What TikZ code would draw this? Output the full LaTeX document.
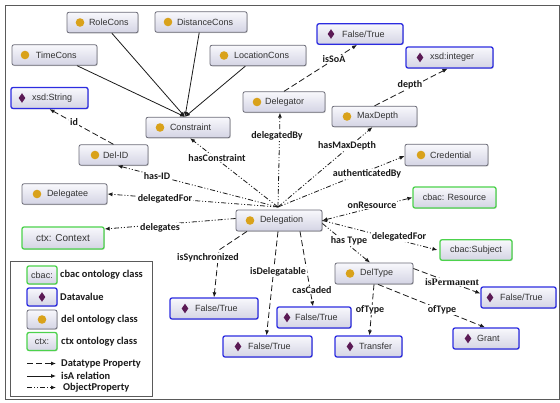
\documentclass[tikz,border=0pt]{standalone}
\usepackage{fontspec}
\setmainfont{Liberation Sans}
\newfontfamily\lblfont{Carlito}
\newfontfamily\lblserif{Liberation Serif}
\usetikzlibrary{arrows.meta,shadows}

\definecolor{framegray}{HTML}{5A5A5A}
\definecolor{boxedge}{HTML}{6C6C78}
\definecolor{boxtop}{HTML}{F8F8FC}
\definecolor{boxbot}{HTML}{D4D4E4}
\definecolor{dvblue}{HTML}{2C2CE0}
\definecolor{extgreen}{HTML}{4CD24C}
\definecolor{dotgold}{HTML}{D9A21B}
\definecolor{diapurple}{HTML}{5B1A55}
\definecolor{linec}{HTML}{1A1A1A}
\definecolor{nodetext}{HTML}{333333}

\begin{document}
\begin{tikzpicture}[x=1pt,y=-1pt,
  cls/.style={rectangle, rounded corners=2pt, draw=boxedge, line width=0.8pt,
    top color=boxtop, bottom color=boxbot, minimum height=20.5pt, inner sep=0pt,
    font=\fontsize{9}{10}\selectfont, text=nodetext,
    drop shadow={shadow xshift=0.8pt, shadow yshift=-0.8pt, opacity=0.3}},
  delc/.style={cls, align=left,
    path picture={\fill[dotgold] ([xshift=#1]path picture bounding box.west) circle[radius=4.3pt];}},
  delc/.default=14pt,
  dval/.style={cls, draw=dvblue, line width=1.3pt, align=left,
    path picture={\fill[diapurple, sharp corners] ([xshift=#1]path picture bounding box.west)
      ++(0pt,4.8pt) -- ++(3.3pt,-4.8pt) -- ++(-3.3pt,-4.8pt) -- ++(-3.3pt,4.8pt) -- cycle;}},
  dval/.default=14pt,
  ext/.style={cls, draw=extgreen, line width=1.3pt, align=center},
  tip/.style={-{Latex[length=5pt,width=4pt]}},
  dtp/.style={draw=linec, line width=0.8pt, dash pattern=on 6pt off 3pt, tip},
  isa/.style={draw=linec, line width=0.8pt, tip},
  obp/.style={draw=linec, line width=0.8pt,
    dash pattern=on 5pt off 2pt on 1pt off 2pt on 1pt off 2pt, tip},
  elab/.style={font=\lblfont\bfseries\fontsize{10}{11}\selectfont, text=black!90,
    fill=white, inner sep=0.8pt},
  lgtext/.style={anchor=west, font=\lblfont\bfseries\fontsize{10.4}{11}\selectfont,
    text=black!90, inner sep=0pt}
]
\useasboundingbox (0,0) rectangle (560,403);
\draw[framegray, line width=0.9pt] (5,5) rectangle (559.5,399);

% ---- classes and values ----
\node[delc=13pt, text width=71pt] (RoleCons) at (102.5,22.5) {\hspace*{22pt}RoleCons};
\node[delc=13pt, text width=92pt] (DistanceCons) at (201,22) {\hspace*{22pt}DistanceCons};
\node[delc=13pt, text width=85pt] (TimeCons) at (54.5,55) {\hspace*{24pt}TimeCons};
\node[delc, text width=96pt] (LocationCons) at (258,55.5) {\hspace*{24pt}LocationCons};
\node[dval=11pt, text width=77pt, minimum height=21pt] (xsdString) at (49.5,98) {\hspace*{21pt}xsd:String};
\node[delc, text width=84pt] (Constraint) at (188,127.5) {\hspace*{24pt}Constraint};
\node[delc, text width=82pt] (Delegator) at (284,102) {\hspace*{22pt}Delegator};
\node[dval, text width=86pt] (isSoAVal) at (360,34) {\hspace*{25pt}False/True};
\node[dval, text width=87pt, minimum height=21pt] (xsdInteger) at (449.5,57.5) {\hspace*{24pt}xsd:integer};
\node[delc=15pt, text width=85pt] (MaxDepth) at (374.5,116.5) {\hspace*{25pt}MaxDepth};
\node[delc=16pt, text width=83pt, minimum height=21.5pt] (Credential) at (446.5,155) {\hspace*{25pt}Credential};
\node[ext, minimum width=83pt, minimum height=21pt] (cbacResource) at (454.5,197.5) {cbac: Resource};
\node[ext, minimum width=72pt] (cbacSubject) at (476,250) {cbac:Subject};
\node[delc=16pt, text width=69pt] (DelID) at (113.5,155) {\hspace*{24pt}Del-ID};
\node[delc=15pt, text width=85pt] (Delegatee) at (64.5,194) {\hspace*{25pt}Delegatee};
\node[ext, minimum width=82pt, minimum height=22pt, font=\fontsize{10}{11}\selectfont] (ctxContext) at (63,238) {ctx: Context};
\node[delc, text width=86pt, minimum height=21pt] (Delegation) at (279,220.5) {\hspace*{24pt}Delegation};
\node[delc=15pt, text width=78pt, minimum height=21pt] (DelType) at (374,273.5) {\hspace*{25pt}DelType};
\node[dval=15pt, text width=88pt, minimum height=21pt] (syncVal) at (214,308.5) {\hspace*{25pt}False/True};
\node[dval=15pt, text width=89pt, minimum height=21pt] (delegVal) at (267.5,346.5) {\hspace*{25pt}False/True};
\node[dval=10pt, text width=74pt, minimum height=21pt] (cascVal) at (314,317.5) {\hspace*{18pt}False/True};
\node[dval=15pt, text width=67pt, minimum height=21pt] (Transfer) at (368.5,346.5) {\hspace*{24pt}Transfer};
\node[dval=15pt, text width=66pt, minimum height=21pt] (Grant) at (486,338.5) {\hspace*{24pt}Grant};
\node[dval=9pt, text width=75pt, minimum height=21pt] (permVal) at (518.5,297.5) {\hspace*{19pt}False/True};

% ---- isA relations ----
\draw[isa] (RoleCons) -- ([xshift=-3pt]Constraint.north);
\draw[isa] (DistanceCons) -- ([xshift=-3pt]Constraint.north);
\draw[isa] (TimeCons) -- ([xshift=-3pt]Constraint.north);
\draw[isa] (LocationCons) -- ([xshift=-3pt]Constraint.north);

% ---- object properties ----
\coordinate (hub) at (278,207);
\draw[obp] (hub) -- ([xshift=4pt]DelID.south);
\draw[obp] (hub) -- (Delegatee.east);
\draw[obp] ([yshift=2pt]Delegation.west) -- ([yshift=9pt]ctxContext.east);
\draw[obp] (hub) -- ([xshift=2pt]Constraint.south);
\draw[obp] (hub) -- ([xshift=-4pt]Delegator.south);
\draw[obp] (hub) -- ([xshift=-2pt]MaxDepth.south);
\draw[obp] (hub) -- ([yshift=-1pt]Credential.west);
\draw[obp, {Latex[length=5pt,width=4pt]}-{Latex[length=5pt,width=4pt]}] (Delegation.east) -- (cbacResource.west);
\draw[obp] (Delegation.east) -- ([xshift=-2pt]cbacSubject.west);
\draw[obp] ([yshift=-3pt]Delegation.east) -- ([xshift=-4pt]DelType.north);

% ---- datatype properties ----
\draw[dtp] (DelID.north) -- (xsdString.south);
\draw[dtp] (Delegator.north) -- ([xshift=-3pt]isSoAVal.south);
\draw[dtp] (MaxDepth.north) -- ([xshift=-2pt]xsdInteger.south);
\coordinate (syncBend) at (219,250);
\draw[dtp] ([xshift=-32pt]Delegation.south) -- (syncBend) -- (syncVal.north);
\draw[dtp] ([xshift=-1pt]Delegation.south) -- ([xshift=-1pt]delegVal.north);
\draw[dtp] ([xshift=21pt]Delegation.south) -- ([xshift=-1pt]cascVal.north);
\draw[dtp] (DelType.south) -- ([xshift=1pt]Transfer.north);
\draw[dtp] ([xshift=4pt]DelType.south) -- ([xshift=-1pt]Grant.north);
\draw[dtp] ([yshift=5pt]DelType.east) -- ([yshift=4pt]permVal.west);

% ---- property labels ----
\node[elab] (lbId) at (74,122.5) {id};
\node[elab] (lbHasId) at (157,176) {has-ID};
\node[elab] (lbDelFor) at (165,199) {delegatedFor};
\node[elab] (lbDelegates) at (160,228) {delegates};
\node[elab] (lbHasCons) at (217,158) {hasConstraint};
\node[elab] (lbDelBy) at (277,136) {delegatedBy};
\node[elab] (lbMaxDepth) at (347,146) {hasMaxDepth};
\node[elab] (lbAuth) at (367,174) {authenticatedBy};
\node[elab] (lbOnRes) at (372,205) {onResource};
\node[elab] (lbDelForR) at (399,237) {delegatedFor};
\node[elab] (lbHasType) at (349,241) {has Type};
\node[elab] (lbSoA) at (334,59) {isSoA};
\node[elab] (lbDepth) at (410,85) {depth};
\node[elab] (lbSync) at (208,258) {isSynchronized};
\node[elab] (lbDeleg) at (278,272) {isDelegatable};
\node[elab] (lbCasc) at (312,290) {casCaded};
\node[elab] (lbOfTypeT) at (370,310) {ofType};
\node[elab] (lbOfTypeG) at (442,310) {ofType};
\node[elab, font=\lblserif\bfseries\fontsize{10}{11}\selectfont] (lbPerm) at (452,282) {isPermanent};

% ---- legend ----
\draw[framegray, line width=0.8pt] (10,261) rectangle (152,396);
\node[ext, minimum width=30pt, minimum height=18pt] (lgCbac) at (42,275) {cbac:};
\node[cls, draw=dvblue, line width=1.3pt, minimum width=30pt, minimum height=18pt] (lgDv) at (42,297) {};
\fill[diapurple] (lgDv) ++(0pt,4.8pt) -- ++(3.3pt,-4.8pt) -- ++(-3.3pt,-4.8pt) -- ++(-3.3pt,4.8pt) -- cycle;
\node[cls, minimum width=30pt, minimum height=19pt] (lgDel) at (42,319.5) {};
\fill[dotgold] (lgDel) circle[radius=4.3pt];
\node[ext, minimum width=30pt, minimum height=18pt] (lgCtx) at (42,341.5) {ctx:};
\node[lgtext] (lgCbacTxt) at (60,275) {cbac ontology class};
\node[lgtext] (lgDvTxt) at (60,297) {Datavalue};
\node[lgtext] (lgDelTxt) at (61,319.5) {del ontology class};
\node[lgtext] (lgCtxTxt) at (61,341.5) {ctx ontology class};
\coordinate (lgDa) at (27,363.5);
\coordinate (lgDb) at (56,363.5);
\coordinate (lgIa) at (27,376);
\coordinate (lgIb) at (56,376);
\coordinate (lgOa) at (27,387.5);
\coordinate (lgOb) at (56,387.5);
\draw[dtp] (lgDa) -- (lgDb);
\draw[isa] (lgIa) -- (lgIb);
\draw[obp] (lgOa) -- (lgOb);
\node[lgtext] (lgDtpTxt) at (61,363.5) {Datatype Property};
\node[lgtext] (lgIsaTxt) at (61,376) {isA relation};
\node[lgtext] (lgObpTxt) at (63,387.5) {ObjectProperty};
\end{tikzpicture}
\end{document}
